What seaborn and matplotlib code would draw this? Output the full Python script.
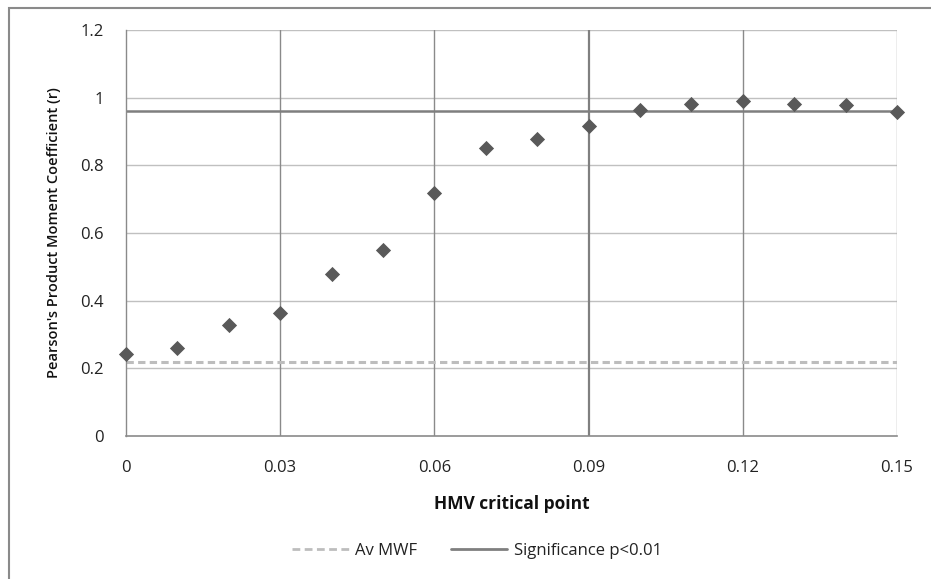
import matplotlib
matplotlib.use("Agg")
import matplotlib.pyplot as plt
import seaborn as sns
import pandas as pd
from matplotlib.patches import Rectangle
from matplotlib.lines import Line2D

hmv = [0.00, 0.01, 0.02, 0.03, 0.04, 0.05, 0.06, 0.07, 0.08, 0.09,
       0.10, 0.11, 0.12, 0.13, 0.14, 0.15]
pearson_r = [0.242, 0.259, 0.327, 0.364, 0.478, 0.550, 0.717, 0.850, 0.877, 0.916,
             0.964, 0.983, 0.991, 0.981, 0.978, 0.957]
av_mwf = 0.218
significance = 0.961
xticks = [0, 0.03, 0.06, 0.09, 0.12, 0.15]
xtick_labels = ["0", "0.03", "0.06", "0.09", "0.12", "0.15"]
yticks = [0, 0.2, 0.4, 0.6, 0.8, 1.0, 1.2]
ytick_labels = ["0", "0.2", "0.4", "0.6", "0.8", "1", "1.2"]
legend_labels = ["Av MWF", "Significance p<0.01"]

sns.set_theme(style="white")
plt.rcParams['font.family'] = ['Open Sans', 'DejaVu Sans']

df = pd.DataFrame({"hmv": hmv, "r": pearson_r})

fig = plt.figure(figsize=(9.31, 5.79), dpi=100)
ax = fig.add_axes([0.1353, 0.247, 0.8282, 0.701])

# outer frame (right and bottom edges fall off the canvas)
fig.patches.append(Rectangle((9/931, -0.01), 1.0, 1 - 8/579 + 0.01, transform=fig.transFigure,
                             fill=False, edgecolor="#8a8a8a", linewidth=1.5, zorder=0))

ax.set_xlim(0, 0.15)
ax.set_ylim(0, 1.2)
ax.set_xticks(xticks)
ax.set_xticklabels(xtick_labels)
ax.set_yticks(yticks)
ax.set_yticklabels(ytick_labels)

for y in yticks[1:]:
    ax.axhline(y, color="#c0c0c0", lw=1.0, zorder=1)
for x in xticks[1:]:
    if abs(x - 0.09) < 1e-9:
        ax.axvline(x, color="#808080", lw=1.6, zorder=1)
    elif abs(x - 0.15) < 1e-9:
        ax.axvline(x, color="#a8a8a8", lw=1.0, zorder=1)
    else:
        ax.axvline(x, color="#8a8a8a", lw=1.0, zorder=1)

for s in ["top", "right"]:
    ax.spines[s].set_visible(False)
ax.spines["left"].set_color("#8a8a8a")
ax.spines["left"].set_linewidth(1.0)
ax.spines["bottom"].set_color("#8a8a8a")
ax.spines["bottom"].set_linewidth(1.2)

dash_style = (0, (2.4, 1.4))
ax.axhline(av_mwf, color="#bdbdbd", lw=2.2, ls=dash_style, zorder=2)
ax.axhline(significance, color="#7f7f7f", lw=1.8, zorder=2)

sns.scatterplot(data=df, x="hmv", y="r", marker="D", s=60, color="#595959",
                edgecolor="#595959", linewidth=0, ax=ax, zorder=3, legend=False,
                clip_on=False)

ax.tick_params(axis="both", length=0, labelsize=12, colors="#222222")
ax.tick_params(axis="x", pad=17)
ax.tick_params(axis="y", pad=16)
ax.set_xlabel("HMV critical point", fontsize=12.5, fontweight="bold", labelpad=14,
              color="#111111")
ax.set_ylabel("Pearson's Product Moment Coefficient (r)", fontsize=10.5,
              fontweight="semibold", labelpad=14, color="#111111")

handles = [Line2D([], [], color="#bdbdbd", lw=2.0, ls=(0, (2.8, 1.6))),
           Line2D([], [], color="#7f7f7f", lw=2.0)]
fig.legend(handles, legend_labels, loc="center",
           bbox_to_anchor=(477/931, 1 - 551/579), ncol=2, frameon=False,
           fontsize=12, handlelength=3.4, columnspacing=2.0, handletextpad=0.4,
           labelcolor="#222222")

fig.savefig("out.png", dpi=100)
